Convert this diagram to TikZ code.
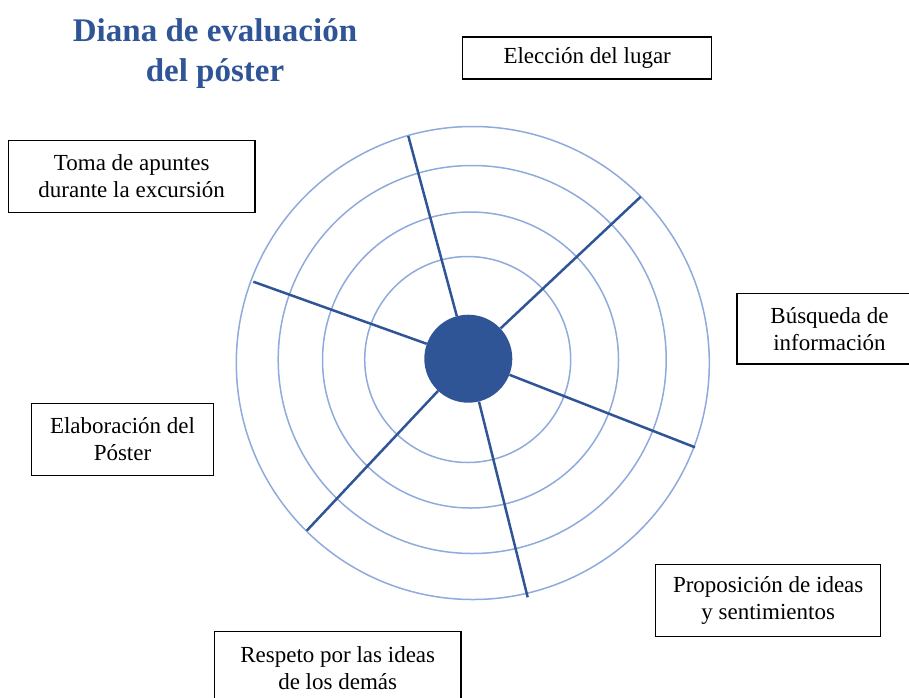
\documentclass[tikz,border=0pt]{standalone}
\usepackage{fontspec}
\setmainfont{Liberation Serif}
\usepackage{tikz}
\definecolor{dblue}{HTML}{2F5597}
\definecolor{lblue}{HTML}{8FAADC}
\tikzset{%
  ring/.style={draw=lblue,line width=1.5pt},
  spoke/.style={draw=dblue,line width=2.5pt},
  hubdot/.style={draw=none,shape=circle,fill=dblue,inner sep=0,minimum size=88pt},
  lbox/.style={draw=black,line width=1.4pt,align=center,inner sep=0,minimum height=72pt,
    font=\fontsize{23}{27}\selectfont},
  ttl/.style={align=center,text=dblue,font=\fontsize{33}{40}\selectfont\bfseries}
}
\begin{document}
\begin{tikzpicture}[x=1pt,y=-1pt]
    \useasboundingbox (0,0) rectangle (909,697);
    % rings of the target
    \draw[ring] (472.8,363) circle[radius=236.5pt];
    \draw[ring] (472.2,359.5) circle[radius=194pt];
    \draw[ring] (470.5,360) circle[radius=148pt];
    \draw[ring] (467.7,359.5) circle[radius=103pt];
    \path
      (408.3,136) coordinate (s1)
      (640.7,196.7) coordinate (s2)
      (695,447.3) coordinate (s3)
      (527.7,597.3) coordinate (s4)
      (306.7,530.7) coordinate (s5)
      (253.3,281.7) coordinate (s6)
      (468.3,358.7) node (hub)[hubdot]{};
    \foreach \s in {s1,s2,s3,s4,s5,s6}
      \draw[spoke] (hub) -- (\s);
    % title and labels
    \node (title)[ttl,anchor=base] at (215,81.7) {Diana de evaluación\\del póster};
    \node (lugar)[lbox,minimum width=249pt,minimum height=42pt] at (587.2,57.9) {Elección del lugar};
    \node (apuntes)[lbox,minimum width=246.7pt] at (131.7,176.5) {Toma de apuntes\\durante la excursión};
    \node (busqueda)[lbox,minimum width=185pt,minimum height=70.7pt] at (829.5,328.7) {Búsqueda de\\información};
    \node (elabora)[lbox,minimum width=181.6pt] at (122.5,439.5) {Elaboración del\\Póster};
    \node (ideas)[lbox,minimum width=225pt] at (768.2,600.5) {Proposición de ideas\\y sentimientos};
    \node (respeto)[lbox,minimum width=246.7pt] at (337.7,667.7) {Respeto por las ideas\\de los demás};
\end{tikzpicture}
\end{document}
